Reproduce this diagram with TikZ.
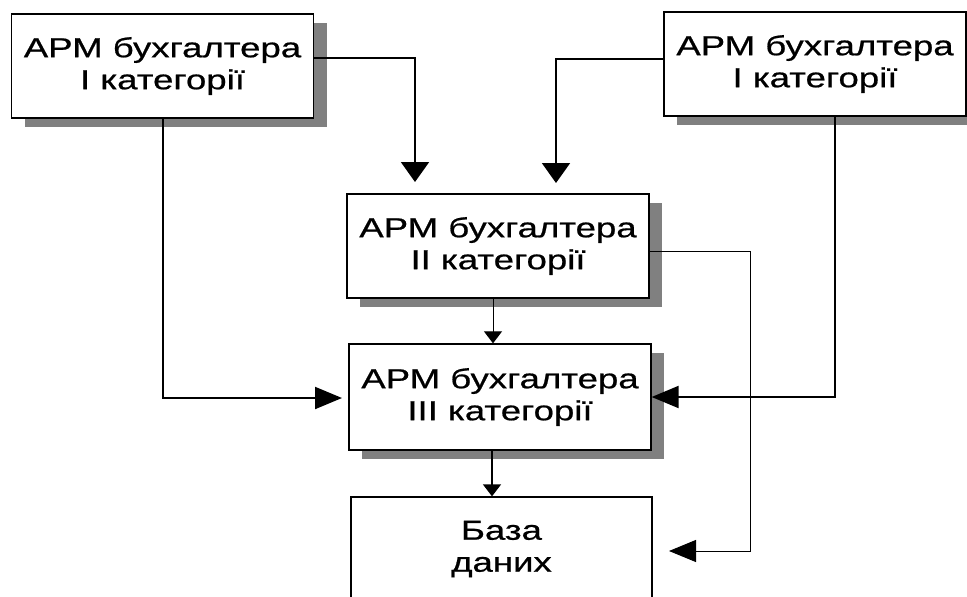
\documentclass[tikz,border=0pt]{standalone}
\usepackage{fontspec}
\setmainfont{Liberation Sans}[FakeStretch=1.33, FakeBold=0.7]
\usetikzlibrary{arrows.meta,shadows}

\begin{document}
\begin{tikzpicture}[x=1pt,y=-1pt,
  box/.style={draw=black, line width=1.3pt, fill=white,
    minimum width=302pt, minimum height=104pt, inner sep=0pt,
    align=center, font=\fontsize{27.5}{32}\selectfont},
  shaded/.style={drop shadow={shadow xshift=13pt, shadow yshift=-9pt,
    fill=gray, opacity=1}},
  heavy/.style={line width=2pt},
  light/.style={line width=1pt},
  bigtip/.style={-{Triangle[length=20pt,width=28pt]}},
  sidetip/.style={-{Triangle[length=27pt,width=22pt]}},
  smalltip/.style={-{Triangle[length=12pt,width=18pt]}}
]
\clip (0,0) rectangle (967,597);
\fill[white] (0,0) rectangle (967,597);

% workstations
\node[box, shaded] (A) at (162.5,66) {АРМ бухгалтера\\І категорії};
\node[box, shaded] (B) at (815,64) {АРМ бухгалтера\\І категорії};
\node[box, shaded] (C) at (498,246) {АРМ бухгалтера\\ІІ категорії};
\node[box, shaded, minimum height=106pt] (D) at (500,397) {АРМ бухгалтера\\ІІІ категорії};
% database
\node[box, minimum width=301pt] (E) at (501.5,549) {База\\даних};

% free ends of the connectors
\coordinate (t1) at (415,182);
\coordinate (t2) at (556,183);
\coordinate (t3) at (342,398);
\coordinate (k6) at (750,551);
\coordinate (t6) at (669,551);

% first-category inputs
\draw[heavy, bigtip] ([yshift=8pt]A.east) -| (t1);
\draw[heavy, bigtip] ([yshift=5pt]B.west) -| (t2);
\draw[heavy, sidetip] (A.south) |- (t3);
\draw[heavy, sidetip] ([xshift=20pt]B.south) |- (D.east);

% second-category outputs
\draw[light, smalltip] ([xshift=-5pt]C.south) -- ([xshift=-5pt]C.south |- D.north);
\draw[light, sidetip] ([yshift=-5pt]C.east) -| (k6) -- (t6);

% third category to the database
\draw[line width=1.5pt, smalltip] ([xshift=-8pt]D.south) -- ([xshift=-8pt]D.south |- E.north);
\end{tikzpicture}
\end{document}
